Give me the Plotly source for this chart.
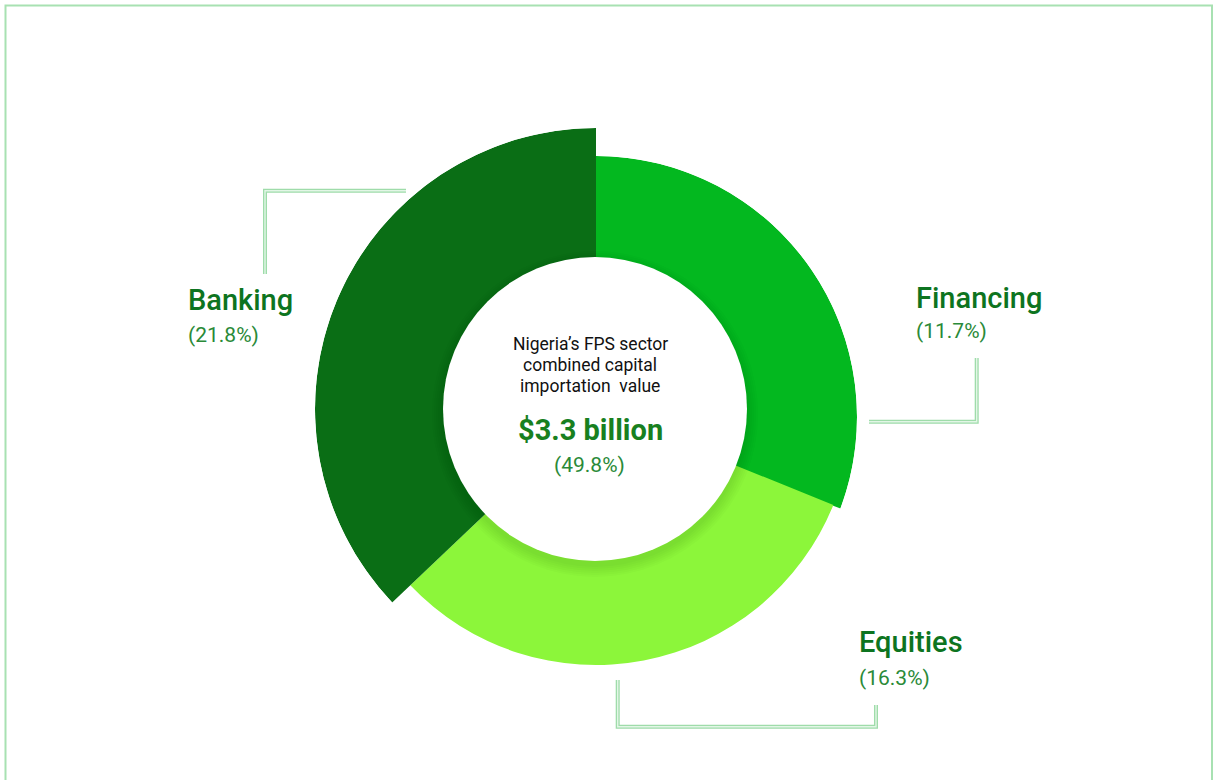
import plotly.graph_objects as go

# ---- data -------------------------------------------------------------
sectors = ["Financing", "Equities", "Banking"]
share_pct = [11.7, 16.3, 21.8]
total_share_pct = 49.8
total_value = "$3.3 billion"
centre_title = ["Nigeria\u2019s FPS sector", "combined capital", "importation\u00a0 value"]

# ---- ring geometry ----------------------------------------------------
# angular sweep (deg, clockwise from 12 o'clock), outer radius (px) and
# ring centre (page px) of each segment
sweep_deg = {"Financing": 110.5, "Equities": 114.5, "Banking": 133.5}
start_deg = {"Financing": 0.0, "Equities": 112.0, "Banking": 226.5}
outer_radius = {"Financing": 261, "Equities": 256, "Banking": 281}
seg_colors = {"Financing": "#03b81f", "Equities": "#8cf63a", "Banking": "#0a6e15"}
inner_radius = 152
hidden_inner = inner_radius - 12   # tucked under the centre disc

W, H = 1216, 780
DISC_X, DISC_Y = 595, 409

# two polar frames: Financing sits on its own slightly lower centre,
# Equities and Banking share the main centre and are drawn on top
frames = {
    "polar": dict(cx=596, cy=417, R=261, members=["Financing"]),
    "polar2": dict(cx=596, cy=409, R=281, members=["Equities", "Banking"]),
}


def px(x, y):
    """page pixels -> paper coordinates"""
    return x / W, 1 - y / H


fig = go.Figure()
layout_polars = {}
for name, fr in frames.items():
    names = fr["members"]
    fig.add_trace(go.Barpolar(
        subplot=name,
        theta=[start_deg[n] + sweep_deg[n] / 2 for n in names],
        width=[sweep_deg[n] for n in names],
        base=[hidden_inner] * len(names),
        r=[outer_radius[n] - hidden_inner for n in names],
        marker=dict(color=[seg_colors[n] for n in names], line=dict(width=0)),
        text=names,
        hoverinfo="text",
    ))
    x0, y0 = px(fr["cx"] - fr["R"], fr["cy"] + fr["R"])
    x1, y1 = px(fr["cx"] + fr["R"], fr["cy"] - fr["R"])
    layout_polars[name] = dict(
        domain=dict(x=[x0, x1], y=[y0, y1]),
        bgcolor="rgba(0,0,0,0)",
        radialaxis=dict(range=[0, fr["R"]], visible=False, showgrid=False),
        angularaxis=dict(rotation=90, direction="clockwise", visible=False,
                         showgrid=False, showline=False),
    )

shapes = []

# soft drop shadow under the centre disc
for k in range(6):
    r = inner_radius + 1 + k * 2
    sx0, sy0 = px(DISC_X - r, DISC_Y + 5 + r)
    sx1, sy1 = px(DISC_X + r, DISC_Y + 5 - r)
    shapes.append(dict(type="circle", xref="paper", yref="paper",
                       x0=sx0, y0=sy0, x1=sx1, y1=sy1,
                       fillcolor="rgba(0,40,0,0.02)", line=dict(width=0),
                       layer="above"))
# centre disc
cx0, cy0 = px(DISC_X - inner_radius, DISC_Y + inner_radius)
cx1, cy1 = px(DISC_X + inner_radius, DISC_Y - inner_radius)
shapes.append(dict(type="circle", xref="paper", yref="paper",
                   x0=cx0, y0=cy0, x1=cx1, y1=cy1,
                   fillcolor="white", line=dict(width=0), layer="above"))

# outer frame
fx0, fy0 = px(5.5, 800)
fx1, fy1 = px(1212, 5.5)
shapes.append(dict(type="rect", xref="paper", yref="paper",
                   x0=fx0, y0=fy0, x1=fx1, y1=fy1,
                   line=dict(color="#a8e1b2", width=2), fillcolor="rgba(0,0,0,0)",
                   layer="below"))

# leader lines (hollow double stroke)
leaders = [
    [(406, 190.7), (265, 190.7), (265, 274)],
    [(976.7, 358), (976.7, 421.7), (869, 421.7)],
    [(617.7, 680), (617.7, 726.7), (876, 726.7), (876, 705)],
]


def path_of(pts):
    out = []
    for i, (x, y) in enumerate(pts):
        u, v = px(x, y)
        out.append(("M" if i == 0 else "L") + f"{u:.5f},{v:.5f}")
    return " ".join(out)


for pts in leaders:
    p = path_of(pts)
    shapes.append(dict(type="path", path=p, xref="paper", yref="paper",
                       line=dict(color="#9fdcaa", width=4), layer="above"))
    shapes.append(dict(type="path", path=p, xref="paper", yref="paper",
                       line=dict(color="#e2f6e6", width=1.4), layer="above"))

FONT = "Roboto, 'Noto Sans', sans-serif"
annotations = []


def add_text(text, x, baseline, size, color, anchor="left", weight=400):
    u, v = px(x, baseline - 0.35 * size)
    annotations.append(dict(text=text, x=u, y=v, xref="paper", yref="paper",
                            xanchor=anchor, yanchor="middle", showarrow=False,
                            borderpad=0,
                            font=dict(family=FONT, size=size, color=color,
                                      weight=weight)))


# segment labels: left edge, baseline of name, baseline of share
label_pos = {
    "Banking": (187, 310, 342),
    "Financing": (915, 308, 338),
    "Equities": (858, 652.5, 685),
}
for name, pct in zip(sectors, share_pct):
    x, b_name, b_pct = label_pos[name]
    add_text(name, x, b_name, 29, "#0d7420", weight=500)
    add_text(f"({pct}%)", x, b_pct, 21, "#2a8a38")

# centre text
for line, b in zip(centre_title, [350, 371, 392]):
    add_text(line, 590, b, 17.5, "#111111", anchor="center")
add_text(total_value, 590.5, 440, 29, "#18801f", anchor="center", weight=700)
add_text(f"({total_share_pct}%)", 589.5, 472, 21, "#2a8a38", anchor="center")

fig.update_layout(
    width=W, height=H,
    margin=dict(l=0, r=0, t=0, b=0),
    paper_bgcolor="white",
    plot_bgcolor="white",
    showlegend=False,
    shapes=shapes,
    annotations=annotations,
    **layout_polars,
)

fig.write_html("out.html")
